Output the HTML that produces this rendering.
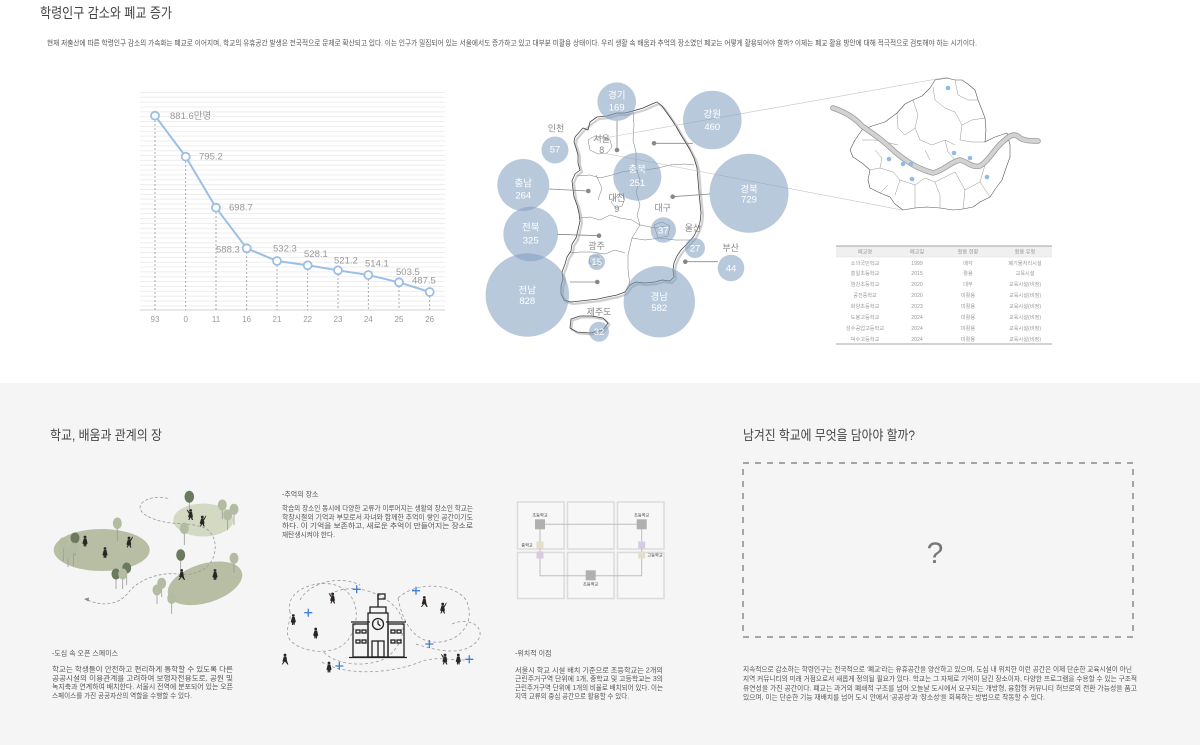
<!DOCTYPE html>
<html><head><meta charset="utf-8"><style>
html,body{margin:0;padding:0;background:#fff;}
svg{display:block;}
text{font-family:"Liberation Sans","Noto Sans CJK KR",sans-serif;}
</style></head><body>
<svg width="1200" height="745" viewBox="0 0 1200 745" xmlns="http://www.w3.org/2000/svg">
<defs>
<pattern id="grid" x="0" y="92" width="10" height="4.85" patternUnits="userSpaceOnUse">
<rect x="0" y="0" width="10" height="0.9" fill="#ebebeb"/>
</pattern>
</defs>
<rect x="0" y="0" width="1200" height="383" fill="#fff"/>
<rect x="0" y="383" width="1200" height="362" fill="#f5f5f5"/>

<!-- Top title & paragraph -->
<text x="40" y="18" font-size="14" fill="#444" textLength="132" lengthAdjust="spacingAndGlyphs">학령인구 감소와 폐교 증가</text>
<text x="47" y="45.5" font-size="7.3" fill="#555" textLength="930" lengthAdjust="spacingAndGlyphs">현재 저출산에 따른 학령인구 감소의 가속화는 폐교로 이어지며, 학교의 유휴공간 발생은 전국적으로 문제로 확산되고 있다. 이는 인구가 밀집되어 있는 서울에서도 증가하고 있고 대부분 미활용 상태이다. 우리 생활 속 배움과 추억의 장소였던  폐교는 어떻게 활용되어야 할까? 이제는 폐교 활용 방안에 대해 적극적으로 검토해야 하는 시기이다.</text>

<!-- Line chart -->
<rect x="140" y="92" width="305" height="216" fill="url(#grid)"/>
<line x1="140" y1="310" x2="445" y2="310" stroke="#d0d0d0" stroke-width="1"/>
<g stroke="#9a9a9a" stroke-width="0.8" stroke-dasharray="2,2">
<line x1="155" y1="116" x2="155" y2="310"/>
<line x1="185.7" y1="157" x2="185.7" y2="310"/>
<line x1="216" y1="208" x2="216" y2="310"/>
<line x1="246.7" y1="248" x2="246.7" y2="310"/>
<line x1="277" y1="261" x2="277" y2="310"/>
<line x1="307.7" y1="265" x2="307.7" y2="310"/>
<line x1="338" y1="270" x2="338" y2="310"/>
<line x1="368.3" y1="275" x2="368.3" y2="310"/>
<line x1="399" y1="282" x2="399" y2="310"/>
<line x1="429.7" y1="292" x2="429.7" y2="310"/>
</g>
<polyline points="155,115.7 185.7,156.7 216,207.7 246.7,248.3 277,261 307.7,265.3 338,270.3 368.3,275 399,282.3 429.7,292" fill="none" stroke="#9cbfe4" stroke-width="2"/>
<g fill="#fff" stroke="#9cbfe4" stroke-width="1.8">
<circle cx="155" cy="115.7" r="4"/><circle cx="185.7" cy="156.7" r="4"/><circle cx="216" cy="207.7" r="4"/>
<circle cx="246.7" cy="248.3" r="4"/><circle cx="277" cy="261" r="4"/><circle cx="307.7" cy="265.3" r="4"/>
<circle cx="338" cy="270.3" r="4"/><circle cx="368.3" cy="275" r="4"/><circle cx="399" cy="282.3" r="4"/>
<circle cx="429.7" cy="292" r="4"/>
</g>
<g font-size="9.5" fill="#999">
<text x="170" y="119">881.6만명</text>
<text x="199" y="159.5">795.2</text>
<text x="229" y="210.5">698.7</text>
<text x="216" y="252.5">588.3</text>
<text x="273" y="251.5">532.3</text>
<text x="304" y="256.8">528.1</text>
<text x="334" y="263.5">521.2</text>
<text x="365" y="266.5">514.1</text>
<text x="396" y="275">503.5</text>
<text x="412" y="283.5">487.5</text>
</g>
<g font-size="8" fill="#999" text-anchor="middle">
<text x="155" y="322">93</text><text x="185.7" y="322">0</text><text x="216" y="322">11</text>
<text x="246.7" y="322">16</text><text x="277" y="322">21</text><text x="307.7" y="322">22</text>
<text x="338" y="322">23</text><text x="368.3" y="322">24</text><text x="399" y="322">25</text>
<text x="429.7" y="322">26</text>
</g>

<!-- Korea map -->
<g fill="none" stroke-linejoin="round">
<path transform="translate(2,2)" stroke="#cfcfcf" stroke-width="2.2" d="M575,137 L583,128 L590,122 L597,117 L607,116 L617,113 L625,113 L633,111 L643,108 L652,104 L657,102 L662,106 L667,113 L672,120 L677,128 L681,135 L686,143 L690,150 L694,158 L697,168 L698,180 L699,192 L700,203 L701,213 L700,222 L698,228 L694,236 L688,243 L681,250 L677,256 L674,263 L673,270 L674,277 L670,281 L662,280 L655,282 L645,283 L636,282 L630,285 L625,292 L617,295 L607,297 L598,299 L589,300 L580,301 L571,302 L564,300 L561,294 L561,286 L563,279 L562,272 L565,264 L567,257 L571,251 L572,244 L576,238 L578,230 L580,221 L579,213 L577,205 L574,197 L573,189 L572,181 L575,174 L580,170 L578,163 L578,155 L576,148 L574,142 Z"/>
<path stroke="#444" stroke-width="0.8" d="M575,137 L583,128 L588,130 L590,122 L597,117 L607,116 L617,113 L625,113 L633,111 L643,108 L652,104 L657,102 L662,106 L667,113 L672,120 L677,128 L681,135 L686,143 L690,150 L694,158 L697,168 L698,180 L699,192 L700,203 L701,213 L700,222 L698,228 L694,236 L688,243 L681,250 L677,256 L674,263 L673,270 L674,277 L670,281 L662,280 L655,282 L645,283 L636,282 L630,285 L625,292 L617,295 L607,297 L598,299 L589,300 L580,301 L571,302 L564,300 L561,294 L561,286 L563,279 L562,272 L565,264 L567,257 L571,251 L572,244 L576,238 L578,230 L580,221 L579,213 L577,205 L574,197 L573,189 L572,181 L575,174 L580,170 L578,163 L578,155 L576,148 L574,142 Z"/>
<path transform="translate(1.5,1.5)" stroke="#cfcfcf" stroke-width="2" d="M571,319 L580,316 L592,316 L603,318 L608,323 L603,330 L590,333 L577,332 L570,328 Z"/>
<path stroke="#444" stroke-width="0.8" d="M571,319 L580,316 L592,316 L603,318 L608,323 L603,330 L590,333 L577,332 L570,328 Z"/>
<g stroke="#777" stroke-width="0.5">
<path d="M633,111 L634,125 L633,140 L636,152 L636,168"/>
<path d="M577,176 L590,175 L600,178 L612,175 L622,172 L635,170 L645,170 L658,168 L670,165 L685,164 L694,165"/>
<path d="M636,168 L640,180 L636,192 L640,205 L637,215 L640,225"/>
<path d="M580,218 L590,217 L600,220 L610,215 L620,218 L632,220 L640,225 L655,228 L665,226"/>
<path d="M570,253 L580,252 L592,252 L605,254 L615,250 L625,253"/>
<path d="M640,225 L632,238 L628,255 L628,270 L630,285"/>
<path d="M632,238 L645,240 L660,238 L675,240 L690,240"/>
<path d="M588,140 L595,136 L603,137 L610,140 L612,147 L607,153 L598,154 L590,150 Z"/>
<path d="M620,193 L625,198 L622,206 L616,208 L611,202 Z"/>
<path d="M654,225 L662,222 L670,226 L668,236 L658,238 Z"/>
<path d="M590,256 L598,256 L602,262 L596,266 L589,263 Z"/>
<path d="M596,175 L602,188 L598,200"/>
</g>
</g>
<!-- leader lines and dots -->
<g stroke="#888" stroke-width="0.8">
<line x1="617" y1="121" x2="617" y2="150"/>
<line x1="654" y1="143.3" x2="693" y2="143.3"/>
<line x1="549" y1="189" x2="588.3" y2="191"/>
<line x1="672.7" y1="196.7" x2="710" y2="194"/>
<line x1="557" y1="234.3" x2="599" y2="235.7"/>
<line x1="570" y1="282" x2="597.3" y2="282"/>
<line x1="685.3" y1="261.7" x2="718" y2="261.7"/>
</g>
<g fill="#888">
<circle cx="617" cy="150" r="2.3"/><circle cx="654" cy="143.3" r="2.3"/><circle cx="588.3" cy="191" r="2.3"/>
<circle cx="672.7" cy="196.7" r="2.3"/><circle cx="599" cy="235.7" r="2.3"/><circle cx="597.3" cy="282" r="2.3"/>
<circle cx="685.3" cy="261.7" r="2.3"/>
</g>
<line x1="593" y1="140" x2="948" y2="77" stroke="#c4c4c4" stroke-width="0.6"/>
<line x1="603" y1="153" x2="902" y2="210" stroke="#c4c4c4" stroke-width="0.6"/>
<!-- bubbles -->
<g fill="#7f9cc0" fill-opacity="0.55">
<circle cx="616.7" cy="101.7" r="19.3"/>
<circle cx="712.3" cy="120" r="29.3"/>
<circle cx="555" cy="150" r="13.5"/>
<circle cx="637.3" cy="176.7" r="24"/>
<circle cx="523.3" cy="185" r="26"/>
<circle cx="749" cy="193.3" r="39.5"/>
<circle cx="663.3" cy="230" r="12.7"/>
<circle cx="530.7" cy="234" r="27.3"/>
<circle cx="695" cy="248" r="10"/>
<circle cx="731" cy="268" r="13.3"/>
<circle cx="596.7" cy="261.7" r="8.3"/>
<circle cx="527.3" cy="295" r="41.7"/>
<circle cx="659.3" cy="301.7" r="35.7"/>
<circle cx="599" cy="331.7" r="10"/>
</g>
<g font-size="9.5" fill="#fff" text-anchor="middle">
<text x="616.7" y="98.5">경기</text><text x="616.7" y="110.5">169</text>
<text x="712.3" y="117.5">강원</text><text x="712.3" y="130">460</text>
<text x="555" y="152.5">57</text>
<text x="637.3" y="172.5">충북</text><text x="637.3" y="186">251</text>
<text x="523.3" y="186.5">충남</text><text x="523.3" y="198.5">264</text>
<text x="749" y="192.5">경북</text><text x="749" y="202.5">729</text>
<text x="663.3" y="233.3">37</text>
<text x="530.7" y="230.5">전북</text><text x="530.7" y="243.5">325</text>
<text x="695" y="251.5">27</text>
<text x="731" y="271.5">44</text>
<text x="596.7" y="265">15</text>
<text x="527.3" y="293.5">전남</text><text x="527.3" y="304">828</text>
<text x="659.3" y="300">경남</text><text x="659.3" y="311">582</text>
<text x="599" y="335">32</text>
</g>
<g font-size="9" fill="#888" text-anchor="middle">
<text x="556" y="131.5">인천</text>
<text x="601.7" y="142">서울</text><text x="601.7" y="153">8</text>
<text x="616.7" y="201">대전</text><text x="616.7" y="212">9</text>
<text x="662.7" y="211">대구</text>
<text x="693" y="231">울산</text>
<text x="730.7" y="251">부산</text>
<text x="596.7" y="249">광주</text>
<text x="599" y="315">제주도</text>
</g>

<!-- Seoul map -->
<g fill="none" stroke-linejoin="round">
<path stroke="#555" stroke-width="0.6" fill="#fff" d="M850,150 L855,140 L862,130 L872,126 L885,122 L897,113 L905,104 L913,100 L922,96 L930,88 L935,80 L947,78 L955,80 L962,80 L968,84 L975,90 L978,100 L982,110 L985,118 L986,130 L985,142 L995,137 L1007,133 L1010,145 L1010,157 L1006,168 L1002,180 L996,188 L990,197 L980,202 L973,207 L963,209 L953,210 L940,208 L927,207 L915,208 L903,210 L895,204 L890,197 L880,193 L870,188 L868,180 L870,170 L862,163 L853,157 Z"/>
<g stroke="#777" stroke-width="0.4">
<path d="M933,87 L935,100 L945,108 L955,112 L962,125 L960,140"/>
<path d="M913,100 L918,115 L915,128 L920,140 L932,145 L945,140 L955,145"/>
<path d="M897,113 L898,128 L905,135 L915,128"/>
<path d="M862,140 L875,140 L885,142 L898,145"/>
<path d="M945,140 L948,152 L955,160"/>
<path d="M962,125 L972,120 L985,118"/>
<path d="M960,140 L972,142 L985,142"/>
<path d="M955,80 L958,95 L968,100 L978,100"/>
<path d="M870,170 L880,168 L893,172 L900,180 L895,195"/>
<path d="M900,180 L915,185 L925,178 L935,182 L940,195 L940,208"/>
<path d="M935,182 L955,172 L965,190 L963,209"/>
<path d="M965,190 L980,182 L990,197"/>
<path d="M980,182 L985,165"/>
<path d="M880,193 L888,185"/>
<path d="M915,185 L915,208"/>
<path d="M875,150 L882,158 L880,168"/>
<path d="M925,150 L930,160"/>
</g>
<path stroke="#9a9a9a" stroke-width="5.5" stroke-linecap="round" d="M833,108 C845,112 855,118 862,126 C875,135 885,142 895,152 C905,160 915,168 933,173 C945,170 950,162 960,160 C968,162 972,168 980,166 C990,160 995,147 1005,140 C1010,135 1015,133 1020,138 C1025,141 1032,141 1038,141"/>
<path stroke="#d2d2d2" stroke-width="4" stroke-linecap="round" d="M833,108 C845,112 855,118 862,126 C875,135 885,142 895,152 C905,160 915,168 933,173 C945,170 950,162 960,160 C968,162 972,168 980,166 C990,160 995,147 1005,140 C1010,135 1015,133 1020,138 C1025,141 1032,141 1038,141"/>
</g>
<g fill="#8fbbe8">
<circle cx="948" cy="88" r="2.3"/><circle cx="889" cy="159" r="2.3"/><circle cx="903" cy="164" r="2.3"/>
<circle cx="911" cy="164" r="2.3"/><circle cx="912" cy="179" r="2.3"/><circle cx="954" cy="153" r="2.3"/>
<circle cx="970" cy="158" r="2.3"/><circle cx="987" cy="177" r="2.3"/>
</g>

<!-- Table -->
<rect x="836" y="246" width="216" height="11" fill="#f0f0f0"/>
<line x1="836" y1="246" x2="1052" y2="246" stroke="#888" stroke-width="0.8"/>
<line x1="836" y1="257" x2="1052" y2="257" stroke="#ddd" stroke-width="0.5"/>
<line x1="836" y1="344" x2="1052" y2="344" stroke="#888" stroke-width="0.8"/>
<g font-size="5.2" fill="#9a9a9a" text-anchor="middle">
<text x="865" y="253.5">폐교명</text><text x="917" y="253.5">폐교일</text><text x="968" y="253.5">활용 현황</text><text x="1025" y="253.5">활용 유형</text>
<text x="865" y="265">소의국민학교</text><text x="917" y="265">1999</text><text x="968" y="265">매각</text><text x="1025" y="265">폐기물처리시설</text>
<text x="865" y="275">홍일초등학교</text><text x="917" y="275">2015</text><text x="968" y="275">활용</text><text x="1025" y="275">교육시설</text>
<text x="865" y="286">염강초등학교</text><text x="917" y="286">2020</text><text x="968" y="286">대부</text><text x="1025" y="286">교육시설(비정)</text>
<text x="865" y="297">공진중학교</text><text x="917" y="297">2020</text><text x="968" y="297">미활용</text><text x="1025" y="297">교육시설(비정)</text>
<text x="865" y="308">화양초등학교</text><text x="917" y="308">2023</text><text x="968" y="308">미활용</text><text x="1025" y="308">교육시설(비정)</text>
<text x="865" y="319">도봉고등학교</text><text x="917" y="319">2024</text><text x="968" y="319">미활용</text><text x="1025" y="319">교육시설(비정)</text>
<text x="865" y="330">성수공업고등학교</text><text x="917" y="330">2024</text><text x="968" y="330">미활용</text><text x="1025" y="330">교육시설(비정)</text>
<text x="865" y="341">덕수고등학교</text><text x="917" y="341">2024</text><text x="968" y="341">미활용</text><text x="1025" y="341">교육시설(비정)</text>
</g>

<!-- Bottom titles -->
<text x="50" y="440" font-size="13.5" fill="#444" textLength="112" lengthAdjust="spacingAndGlyphs">학교, 배움과 관계의 장</text>
<text x="743" y="440" font-size="13.5" fill="#444" textLength="172" lengthAdjust="spacingAndGlyphs">남겨진 학교에 무엇을 담아야 할까?</text>

<!-- Left illustration -->
<ellipse cx="101.7" cy="550" rx="48" ry="21" fill="#b7bea4"/>
<ellipse cx="203.3" cy="520" rx="30" ry="16.5" fill="#d3d9c3"/>
<ellipse cx="205" cy="583.3" rx="38.5" ry="19.5" transform="rotate(-17 205 583.3)" fill="#b7bea4"/>
<g fill="none" stroke="#9a9a9a" stroke-width="0.8" stroke-dasharray="3,2">
<path d="M88,600 C100,606 118,606 128,593 C138,580 158,572 178,574 C195,576 208,570 213,558 C218,545 214,533 205,528 C190,522 175,525 160,521 C145,517 136,510 142,503 C148,497 160,496 170,499"/>
</g>
<path d="M84,599 L89,597.5 L88.5,601.5 Z" fill="#888"/>
<!-- trees -->
<g stroke="#999" stroke-width="0.8">
<line x1="189.3" y1="500" x2="189.3" y2="514"/><line x1="117.3" y1="527" x2="117.3" y2="541"/>
<line x1="75" y1="542" x2="75" y2="556"/><line x1="63.3" y1="547" x2="63.3" y2="561"/>
<line x1="73.3" y1="552" x2="73.3" y2="566"/><line x1="68" y1="557" x2="68" y2="567"/>
<line x1="126.7" y1="572" x2="126.7" y2="585"/><line x1="116" y1="578" x2="116" y2="589"/>
<line x1="122.7" y1="578" x2="122.7" y2="589"/><line x1="184.3" y1="532" x2="184.3" y2="545"/>
<line x1="180.7" y1="559" x2="180.7" y2="573"/><line x1="222.3" y1="509" x2="222.3" y2="519"/>
<line x1="227.7" y1="519" x2="227.7" y2="530"/><line x1="234" y1="513" x2="234" y2="525"/>
<line x1="234" y1="562" x2="234" y2="573"/><line x1="161.7" y1="587" x2="161.7" y2="597"/>
<line x1="157" y1="594" x2="157" y2="604"/><line x1="171.7" y1="602" x2="171.7" y2="614"/>
</g>
<g>
<ellipse cx="189.3" cy="496.7" rx="4.8" ry="6" fill="#6b7a5e"/>
<ellipse cx="117.3" cy="523.3" rx="4.5" ry="5.8" fill="#b3bca3"/>
<ellipse cx="75" cy="538" rx="4.5" ry="5.5" fill="#6b7a5e"/>
<ellipse cx="63.3" cy="543" rx="4.5" ry="5.5" fill="#b3bca3"/>
<ellipse cx="73.3" cy="548" rx="4.5" ry="5.5" fill="#b3bca3"/>
<ellipse cx="68" cy="553.3" rx="4.5" ry="5.5" fill="#b3bca3"/>
<ellipse cx="126.7" cy="568" rx="4.5" ry="5.5" fill="#6b7a5e"/>
<ellipse cx="116" cy="574" rx="4.5" ry="5.5" fill="#6b7a5e"/>
<ellipse cx="122.7" cy="574" rx="4.5" ry="5.5" fill="#b3bca3"/>
<ellipse cx="184.3" cy="528.3" rx="4.5" ry="5.8" fill="#b3bca3"/>
<ellipse cx="180.7" cy="555" rx="4.5" ry="5.8" fill="#6b7a5e"/>
<ellipse cx="222.3" cy="505" rx="4.5" ry="5.5" fill="#b3bca3"/>
<ellipse cx="227.7" cy="515" rx="4.5" ry="5.5" fill="#b3bca3"/>
<ellipse cx="234" cy="509.3" rx="4.5" ry="5.5" fill="#b3bca3"/>
<ellipse cx="234" cy="558.3" rx="4.5" ry="5.5" fill="#b3bca3"/>
<ellipse cx="161.7" cy="583.3" rx="4.5" ry="5.5" fill="#b3bca3"/>
<ellipse cx="157" cy="590" rx="4.5" ry="5.5" fill="#b3bca3"/>
<ellipse cx="171.7" cy="598.3" rx="4.5" ry="5.5" fill="#b3bca3"/>
</g>
<!-- people left -->
<g fill="#2b2624">
<g transform="translate(85,546.5)"><circle cx="0" cy="-9.5" r="1.4"/><path d="M-1.2,-8 L1.4,-8 L2.6,-3 L1.6,-2.5 L1.2,0 L0.3,0 L0,-2 L-0.4,0 L-1.3,0 L-1.5,-2.5 L-2.6,-3 Z"/></g>
<g transform="translate(105,558)"><circle cx="0" cy="-9.5" r="1.4"/><path d="M-1.2,-8 L1.4,-8 L2.6,-3 L1.6,-2.5 L1.2,0 L0.3,0 L0,-2 L-0.4,0 L-1.3,0 L-1.5,-2.5 L-2.6,-3 Z"/></g>
<g transform="translate(129,547.5)"><circle cx="0" cy="-9.5" r="1.4"/><path d="M-1.2,-8 L1.4,-8 L2.2,-3 L1.6,-2.5 L2.4,0 L1.3,0 L0,-2.5 L-1.4,0 L-2.3,0 L-1.5,-2.5 L-2.6,-3 Z M1.2,-7.5 L3.5,-11 L4,-10.5 L2,-6.5 Z"/></g>
<g transform="translate(190.7,520)"><circle cx="0" cy="-9.5" r="1.4"/><path d="M-1.2,-8 L1.4,-8 L2.2,-3 L1.6,-2.5 L2.4,0 L1.3,0 L0,-2.5 L-1.4,0 L-2.3,0 L-1.5,-2.5 L-2.6,-3 Z M-1,-7.5 L-3.5,-10.5 L-4,-10 L-2,-6.5 Z"/></g>
<g transform="translate(202.3,526.5)"><circle cx="0" cy="-9.5" r="1.4"/><path d="M-1.2,-8 L1.4,-8 L2.2,-3 L1.6,-2.5 L2.4,0 L1.3,0 L0,-2.5 L-1.4,0 L-2.3,0 L-1.5,-2.5 L-2.6,-3 Z M1.2,-7.5 L3.5,-11 L4,-10.5 L2,-6.5 Z"/></g>
<g transform="translate(181.7,580)"><circle cx="0" cy="-9.5" r="1.4"/><path d="M-1.2,-8 L1.4,-8 L2.2,-3 L3.4,0 L2.3,0 L0,-3 L-2.4,0 L-3.3,0 L-1.5,-3 L-2.6,-3 Z"/></g>
<g transform="translate(215,580)"><circle cx="0" cy="-9.5" r="1.4"/><path d="M-1.2,-8 L1.4,-8 L2.6,-3 L1.6,-2.5 L1.2,0 L0.3,0 L0,-2 L-0.4,0 L-1.3,0 L-1.5,-2.5 L-2.6,-3 Z"/></g>
</g>

<!-- Left text -->
<text x="52" y="655.5" font-size="7" fill="#555">-도심 속 오픈 스페이스</text>
<g font-size="7" fill="#555" lengthAdjust="spacingAndGlyphs">
<text x="52" y="671.5" textLength="181" lengthAdjust="spacingAndGlyphs">학교는 학생들이 안전하고 편리하게 통학할 수 있도록 다른</text>
<text x="52" y="680.5" textLength="181" lengthAdjust="spacingAndGlyphs">공공시설의 이용관계를 고려하여 보행자전용도로, 공원 및</text>
<text x="52" y="689" textLength="181" lengthAdjust="spacingAndGlyphs">녹지축과 연계하여 배치한다. 서울시 전역에 분포되어 있는 오픈</text>
<text x="52" y="698" textLength="140" lengthAdjust="spacingAndGlyphs">스페이스를 가진 공공자산의 역할을 수행할 수 있다.</text>
</g>

<!-- Middle text -->
<text x="282" y="496.5" font-size="7" fill="#555">-추억의 장소</text>
<text x="282" y="510.5" font-size="7" fill="#555" textLength="191" lengthAdjust="spacingAndGlyphs">학습의 장소인 동시에 다양한 교류가 이루어지는 생활의 장소인 학교는</text>
<text x="282" y="519.5" font-size="7" fill="#555" textLength="191" lengthAdjust="spacingAndGlyphs">학창시절의 기억과 부모로서 자녀와 함께한 추억이 쌓인 공간이기도</text>
<text x="282" y="528" font-size="7" fill="#555" textLength="191" lengthAdjust="spacingAndGlyphs">하다. 이 기억을 보존하고, 새로운 추억이 만들어지는 장소로</text>
<text x="282" y="537" font-size="7" fill="#555" textLength="53" lengthAdjust="spacingAndGlyphs">재탄생시켜야 한다.</text>

<!-- Memory illustration -->
<g fill="none" stroke="#9a9a9a" stroke-width="0.8" stroke-dasharray="3,2.5">
<path d="M290,612 C284,590 318,578 338,586 C358,594 362,620 348,640 C334,658 300,652 290,640 C283,630 292,622 290,612"/>
<path d="M330,594 C352,582 382,592 396,608 C410,624 402,650 382,660 C362,668 332,664 322,650"/>
<path d="M398,598 C418,580 455,584 466,600 C476,620 462,640 440,642 C420,644 404,630 398,598"/>
<path d="M416,644 C440,652 466,656 478,640 C486,628 470,616 452,624"/>
<path d="M322,662 C345,676 390,674 420,662 C440,654 460,664 472,658"/>
<path d="M300,600 C310,582 340,575 360,585"/>
</g>
<g stroke="#222" stroke-width="1.3" fill="none">
<line x1="378" y1="594" x2="378" y2="607"/>
<rect x="378" y="594" width="7" height="5"/>
<path d="M370,613 L370,607 L386,607 L386,613"/>
<rect x="368" y="613" width="20" height="44"/>
<circle cx="378" cy="624" r="5.5"/>
<path d="M378,620.5 L378,624 L380.5,626"/>
<rect x="353" y="624" width="15" height="33"/>
<rect x="388" y="624" width="16" height="33"/>
<line x1="351" y1="622" x2="370" y2="622"/>
<line x1="386" y1="622" x2="406" y2="622"/>
<rect x="356" y="630" width="4" height="3"/><rect x="362" y="630" width="4" height="3"/>
<rect x="356" y="640" width="4" height="3"/><rect x="362" y="640" width="4" height="3"/>
<rect x="391" y="630" width="4" height="3"/><rect x="397" y="630" width="4" height="3"/>
<rect x="391" y="640" width="4" height="3"/><rect x="397" y="640" width="4" height="3"/>
<rect x="372" y="641" width="12" height="16"/>
<line x1="378" y1="641" x2="378" y2="657"/>
<line x1="349" y1="657.5" x2="407" y2="657.5"/>
</g>
<g stroke="#3d7ed6" stroke-width="1.3">
<path d="M356.7,585.3 V593.3 M352.7,589.3 H360.7"/>
<path d="M308.3,608.7 V616.7 M304.3,612.7 H312.3"/>
<path d="M416,586.7 V594.7 M412,590.7 H420"/>
<path d="M429.3,640 V648 M425.3,644 H433.3"/>
<path d="M339.3,662 V670 M335.3,666 H343.3"/>
<path d="M469.3,655.3 V663.3 M465.3,659.3 H473.3"/>
</g>
<g fill="#2b2624">
<g transform="translate(332.7,603.5)"><circle cx="0" cy="-9.5" r="1.4"/><path d="M-1.2,-8 L1.4,-8 L2.2,-3 L1.6,-2.5 L2.4,0 L1.3,0 L0,-2.5 L-1.4,0 L-2.3,0 L-1.5,-2.5 L-2.6,-3 Z M-1,-7.5 L-3.5,-10.5 L-4,-10 L-2,-6.5 Z"/></g>
<g transform="translate(293.3,625)"><circle cx="0" cy="-9.5" r="1.4"/><path d="M-1.2,-8 L1.4,-8 L2.6,-3 L1.6,-2.5 L1.2,0 L0.3,0 L0,-2 L-0.4,0 L-1.3,0 L-1.5,-2.5 L-2.6,-3 Z"/></g>
<g transform="translate(315.7,638.5)"><circle cx="0" cy="-9.5" r="1.4"/><path d="M-1.2,-8 L1.4,-8 L2.6,-3 L1.6,-2.5 L1.2,0 L0.3,0 L0,-2 L-0.4,0 L-1.3,0 L-1.5,-2.5 L-2.6,-3 Z"/></g>
<g transform="translate(285,664.5)"><circle cx="0" cy="-9.5" r="1.4"/><path d="M-1.2,-8 L1.4,-8 L2.2,-3 L3.4,0 L2.3,0 L0,-3 L-2.4,0 L-3.3,0 L-1.5,-3 L-2.6,-3 Z"/></g>
<g transform="translate(329,672.5)"><circle cx="0" cy="-9.5" r="1.4"/><path d="M-1.2,-8 L1.4,-8 L2.6,-3 L1.6,-2.5 L1.2,0 L0.3,0 L0,-2 L-0.4,0 L-1.3,0 L-1.5,-2.5 L-2.6,-3 Z"/></g>
<g transform="translate(424.3,607)"><circle cx="0" cy="-9.5" r="1.4"/><path d="M-1.2,-8 L1.4,-8 L2.2,-3 L3.4,0 L2.3,0 L0,-3 L-2.4,0 L-3.3,0 L-1.5,-3 L-2.6,-3 Z"/></g>
<g transform="translate(442.7,613.5)"><circle cx="0" cy="-9.5" r="1.4"/><path d="M-1.2,-8 L1.4,-8 L2.2,-3 L1.6,-2.5 L2.4,0 L1.3,0 L0,-2.5 L-1.4,0 L-2.3,0 L-1.5,-2.5 L-2.6,-3 Z M1.2,-7.5 L3.5,-11 L4,-10.5 L2,-6.5 Z"/></g>
<g transform="translate(445,664.5)"><circle cx="0" cy="-9.5" r="1.4"/><path d="M-1.2,-8 L1.4,-8 L2.2,-3 L1.6,-2.5 L2.4,0 L1.3,0 L0,-2.5 L-1.4,0 L-2.3,0 L-1.5,-2.5 L-2.6,-3 Z M-1,-7.5 L-3.5,-10.5 L-4,-10 L-2,-6.5 Z"/></g>
<g transform="translate(458.3,664.5)"><circle cx="0" cy="-9.5" r="1.4"/><path d="M-1.2,-8 L1.4,-8 L2.6,-3 L1.6,-2.5 L1.2,0 L0.3,0 L0,-2 L-0.4,0 L-1.3,0 L-1.5,-2.5 L-2.6,-3 Z"/></g>
</g>

<!-- Grid diagram -->
<g fill="#f7f7f7" stroke="#dcdcdc" stroke-width="1.5">
<rect x="517.5" y="502" width="46.5" height="47"/>
<rect x="567.5" y="502" width="46.5" height="47"/>
<rect x="617.5" y="502" width="46.5" height="47"/>
<rect x="517.5" y="552.5" width="46.5" height="46"/>
<rect x="567.5" y="552.5" width="46.5" height="46"/>
<rect x="617.5" y="552.5" width="46.5" height="46"/>
</g>
<g fill="none" stroke="#bdbdbd" stroke-width="1">
<path d="M540,524.3 H641.7"/>
<path d="M540,524.3 V575.7 H641.7 V524.3"/>
</g>
<g>
<rect x="535" y="519.3" width="10" height="10" fill="#b0b0b0"/>
<rect x="636.7" y="519.3" width="10" height="10" fill="#b0b0b0"/>
<rect x="585.7" y="570.3" width="10" height="10" fill="#b0b0b0"/>
<rect x="536.5" y="541.5" width="7" height="7" fill="#e2dec9"/>
<rect x="536.5" y="551.5" width="7" height="7" fill="#d7cbe3"/>
<rect x="638.2" y="541.5" width="7" height="7" fill="#d7cbe3"/>
<rect x="638.2" y="551.5" width="7" height="7" fill="#e2dec9"/>
</g>
<g font-size="4.2" fill="#333" text-anchor="middle">
<text x="540" y="516.5">초등학교</text>
<text x="641.7" y="516.5">초등학교</text>
<text x="527" y="546.5">중학교</text>
<text x="655" y="556.5">고등학교</text>
<text x="590.7" y="585.5">초등학교</text>
</g>
<text x="515" y="655.5" font-size="7" fill="#555">-위치적 이점</text>
<text x="515" y="672.5" font-size="7" fill="#555" textLength="148" lengthAdjust="spacingAndGlyphs">서울시 학교 시설 배치 기준으로 초등학교는 2개의</text>
<text x="515" y="681" font-size="7" fill="#555" textLength="148" lengthAdjust="spacingAndGlyphs">근린주거구역 단위에 1개, 중학교 및 고등학교는 3의</text>
<text x="515" y="690" font-size="7" fill="#555" textLength="148" lengthAdjust="spacingAndGlyphs">근린주거구역 단위에 1개의 비율로 배치되어 있다. 이는</text>
<text x="515" y="698.5" font-size="7" fill="#555" textLength="114" lengthAdjust="spacingAndGlyphs">지역 교류의 중심 공간으로 활용할 수 있다.</text>

<!-- Right dashed box -->
<rect x="743" y="463" width="390" height="174" fill="none" stroke="#555" stroke-width="1" stroke-dasharray="6,6"/>
<text x="935" y="563" font-size="30" fill="#777" text-anchor="middle">?</text>
<g font-size="6.6" fill="#555">
<text x="743" y="671.5" textLength="389" lengthAdjust="spacingAndGlyphs">지속적으로 감소하는 학령인구는 전국적으로 '폐교'라는 유휴공간을 양산하고 있으며, 도심 내 위치한 이런 공간은 이제 단순한 교육시설이 아닌</text>
<text x="743" y="681" textLength="394" lengthAdjust="spacingAndGlyphs">지역 커뮤니티의 미래 거점으로서 새롭게 정의될 필요가 있다. 학교는 그 자체로 기억이 담긴 장소이자, 다양한 프로그램을 수용할 수 있는 구조적</text>
<text x="743" y="690.5" textLength="394" lengthAdjust="spacingAndGlyphs">유연성을 가진 공간이다. 폐교는 과거의 폐쇄적 구조를 넘어 오늘날 도시에서 요구되는 개방형, 융합형 커뮤니티 허브로의 전환 가능성을 품고</text>
<text x="743" y="699.5" textLength="302" lengthAdjust="spacingAndGlyphs">있으며, 이는 단순한 기능 재배치를 넘어 도시 안에서 '공공성'과 '장소성'을 회복하는 방법으로 작동할 수 있다.</text>
</g>
</svg>
</body></html>
